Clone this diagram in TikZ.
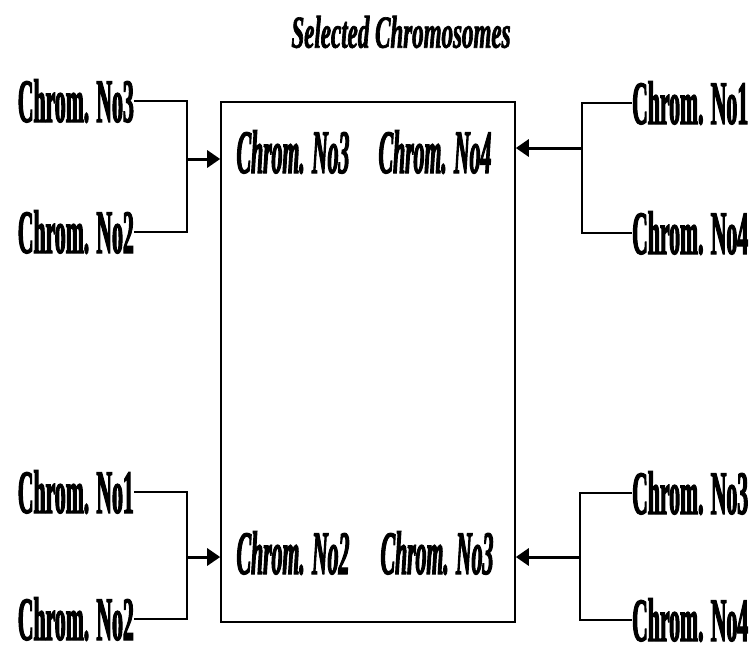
\documentclass[tikz,border=0pt]{standalone}
\usepackage{fontspec}
\usetikzlibrary{arrows.meta}
% condensed heavy serif faces
\newfontfamily\labfont[FakeStretch=0.35,FakeBold=1.6]{Liberation Serif}
\newfontfamily\titfont[FakeStretch=0.5,FakeBold=1.4]{Liberation Serif}
\tikzset{
  lab/.style={inner sep=0pt, font=\labfont\bfseries\fontsize{62}{62}\selectfont},
  inlab/.style={inner sep=0pt, font=\labfont\bfseries\itshape\fontsize{62}{62}\selectfont},
  ttl/.style={inner sep=0pt, font=\titfont\bfseries\itshape\fontsize{46}{46}\selectfont},
  link/.style={line width=2pt},
  feed/.style={line width=3pt, -{Triangle[length=13pt,width=17pt]}},
  pool/.style={draw, line width=1.6pt, minimum width=294pt, minimum height=520pt, inner sep=0pt}
}
\begin{document}
\begin{tikzpicture}[x=1pt,y=-1pt]
\useasboundingbox (0,0) rectangle (754,656);

\node[ttl] (title) at (401,32) {Selected Chromosomes};

% selection pool
\node[pool] (box) at (368,362) {};
\node[inlab] (s1) at (293,152) {Chrom. No3};
\node[inlab] (s2) at (435,152) {Chrom. No4};
\node[inlab] (s3) at (293,553) {Chrom. No2};
\node[inlab] (s4) at (437,553) {Chrom. No3};

% parent pairs, left
\node[lab, anchor=east] (a1) at (134,101) {Chrom. No3};
\node[lab, anchor=east] (a2) at (134,232) {Chrom. No2};
\node[lab, anchor=east] (c1) at (134,492) {Chrom. No1};
\node[lab, anchor=east] (c2) at (134,619) {Chrom. No2};

% parent pairs, right
\node[lab, anchor=west] (b1) at (632,103) {Chrom. No1};
\node[lab, anchor=west] (b2) at (632,233) {Chrom. No4};
\node[lab, anchor=west] (d1) at (632,493) {Chrom. No3};
\node[lab, anchor=west] (d2) at (632,620) {Chrom. No4};

% bracket junctions
\coordinate (ja) at (187,159);
\coordinate (jb) at (582,148);
\coordinate (jc) at (187,557);
\coordinate (jd) at (580,557);

\draw[link] (a1.east) -| (ja) |- (a2.east);
\draw[link] (c1.east) -| (jc) |- (c2.east);
\draw[link] (b1.west) -| (jb) |- (b2.west);
\draw[link] (d1.west) -| (jd) |- (d2.west);

\draw[feed] (ja) -- (box.west |- ja);
\draw[feed] (jc) -- (box.west |- jc);
\draw[feed] (jb) -- (box.east |- jb);
\draw[feed] (jd) -- (box.east |- jd);
\end{tikzpicture}
\end{document}
